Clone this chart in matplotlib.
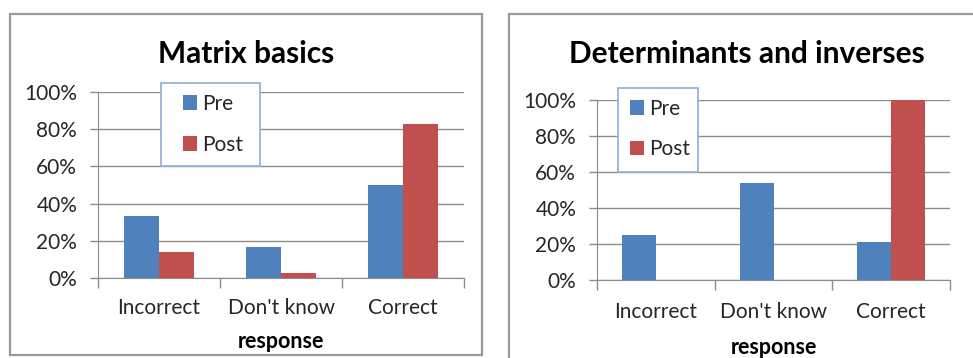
import matplotlib
matplotlib.use("Agg")
import matplotlib.pyplot as plt
from matplotlib.patches import Rectangle
from matplotlib.ticker import PercentFormatter

categories = ["Incorrect", "Don't know", "Correct"]
series_names = ["Pre", "Post"]
matrix_pre = [0.333, 0.167, 0.50]
matrix_post = [0.14, 0.025, 0.83]
det_pre = [0.25, 0.54, 0.21]
det_post = [0.0, 0.0, 1.00]
titles = ["Matrix basics", "Determinants and inverses"]
yticks = [0, 0.2, 0.4, 0.6, 0.8, 1.0]
xlabel = "response"

W, H = 973, 358
plt.rcParams['font.family'] = ['Lato', 'DejaVu Sans']
fig = plt.figure(figsize=(W / 100, H / 100), dpi=100)

PRE_C = "#4F81BD"
POST_C = "#C0504D"
GRID_C = "#8c8c8c"
TXT_C = "#262626"

def fx(px):
    return px / W

def fy(py):
    return 1 - py / H

panels = [
    dict(ax=(98, 92, 464, 278), frame=(10, 14, 482, 355), title_x=246, title_y=54,
         pre=matrix_pre, post=matrix_post, title=titles[0],
         leg=(161, 83, 260, 166), leg_anchor=(183, 124.5), cat_pad=14.6, xl_y=341),
    dict(ax=(597, 100, 950, 280), frame=(509, 14, 990, 370), title_x=747, title_y=54,
         pre=det_pre, post=det_post, title=titles[1],
         leg=(618, 88, 698, 172), leg_anchor=(630, 129), cat_pad=16.0, xl_y=347),
]

for p in panels:
    x0, yt, x1, yb = p["ax"]
    # frame
    fl, ft, fr, fb = p["frame"]
    fig.add_artist(Rectangle((fx(fl), fy(fb)), fx(fr - fl), (fb - ft) / H,
                             transform=fig.transFigure, fill=False,
                             edgecolor="#9a9a9a", linewidth=1.6, clip_on=False))
    ax = fig.add_axes([fx(x0), fy(yb), fx(x1 - x0), (yb - yt) / H])
    n = len(categories)
    xs = list(range(n))
    bw = 0.2875
    ax.bar([x - bw / 2 for x in xs], p["pre"], width=bw, color=PRE_C,
           label=series_names[0], zorder=3)
    ax.bar([x + bw / 2 for x in xs], p["post"], width=bw, color=POST_C,
           label=series_names[1], zorder=3)
    ax.set_xlim(-0.5, n - 0.5)
    ax.set_ylim(0, 1.0)
    ax.set_yticks(yticks)
    ax.yaxis.set_major_formatter(PercentFormatter(1.0, decimals=0))
    ax.grid(axis="y", color=GRID_C, linewidth=1.0, zorder=0)
    ax.set_axisbelow(True)
    for s in ["top", "right"]:
        ax.spines[s].set_visible(False)
    ax.spines["left"].set_color(GRID_C)
    ax.spines["bottom"].set_color(GRID_C)
    ax.tick_params(axis="y", length=6, width=1.0, color=GRID_C, labelsize=15,
                   labelcolor=TXT_C, pad=9)
    # category boundaries as x ticks
    ax.set_xticks([i - 0.5 for i in range(n + 1)])
    ax.set_xticklabels([])
    ax.set_xticks(xs, minor=True)
    ax.set_xticklabels(categories, minor=True)
    ax.tick_params(axis="x", which="major", length=7, width=1.0, color=GRID_C,
                   direction="out")
    ax.tick_params(axis="x", which="minor", length=0, labelsize=15,
                   labelcolor=TXT_C, pad=p["cat_pad"])
    fig.text(fx(p["title_x"]), fy(p["title_y"]), p["title"],
             ha="center", va="center", fontsize=21.5, fontweight="bold",
             color="black")
    fig.text(fx((x0 + x1) / 2), fy(p["xl_y"]), xlabel, ha="center",
             va="center", fontsize=15.5, fontweight="bold", color="black")
    # legend box (drawn inside the axes so the legend sits on top)
    ll, lt, lr, lb = p["leg"]
    ax.add_patch(Rectangle((fx(ll), fy(lb)), fx(lr - ll), (lb - lt) / H,
                           transform=fig.transFigure, facecolor="white",
                           edgecolor="#95B3D7", linewidth=1.3, zorder=5,
                           clip_on=False))
    ax_, ay_ = p["leg_anchor"]
    leg = ax.legend(loc="center left",
                    bbox_to_anchor=(fx(ax_), fy(ay_)),
                    bbox_transform=fig.transFigure,
                    fontsize=15, frameon=False,
                    handlelength=0.65, handleheight=0.7, handletextpad=0.25,
                    labelspacing=1.0, borderpad=0, borderaxespad=0)
    leg.set_zorder(6)
    for t in leg.get_texts():
        t.set_color(TXT_C)

fig.savefig("out.png", dpi=100)
